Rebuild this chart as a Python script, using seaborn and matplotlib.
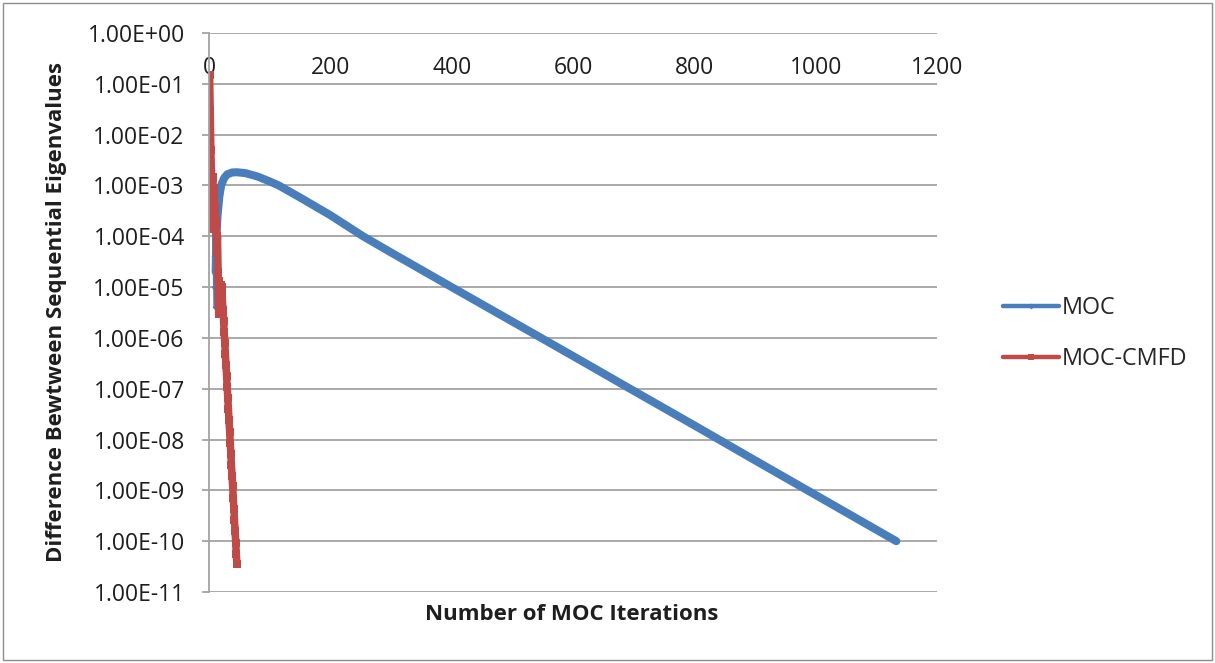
import matplotlib
matplotlib.use("Agg")
import matplotlib.pyplot as plt
from matplotlib.lines import Line2D
from matplotlib.patches import Rectangle
from matplotlib.ticker import FixedLocator, FuncFormatter, NullLocator
import pandas as pd
import seaborn as sns

# Convergence history: eigenvalue change per outer iteration
moc_iter = [1, 2, 3, 4, 5, 6, 7, 8, 9, 10, 11, 12, 14, 17, 20, 25, 30, 38, 46,
            60, 80, 100, 115, 150, 200, 254, 300, 400, 500, 600, 700, 800, 900,
            1000, 1133]
moc_diff = [1.7e-2, 1.2e-2, 8e-3, 5e-3, 2e-3, 6e-4, 1.5e-4, 4e-5, 1e-5, 4e-6,
            2e-5, 8e-5, 2.5e-4, 6e-4, 1.0e-3, 1.4e-3, 1.65e-3, 1.8e-3, 1.82e-3,
            1.75e-3, 1.5e-3, 1.2e-3, 1.0e-3, 5.8e-4, 2.6e-4, 1.0e-4, 4.8e-5,
            1.0e-5, 2.1e-6, 4.4e-7, 9.1e-8, 1.9e-8, 3.9e-9, 8.1e-10, 1.0e-10]

cmfd_iter = list(range(1, 47))
cmfd_diff = [1.5e-1, 3e-2, 5e-3, 2e-3, 1.4e-4, 1.5e-3, 3e-4, 9e-4, 1.5e-4, 4e-4,
             1.3e-4, 2e-4, 5e-5, 1e-4, 2e-5, 3e-6, 1.3e-5, 4e-6, 1.1e-5, 3.2e-6,
             1.0e-5, 6.0e-6, 3.6e-6, 2.2e-6, 1.3e-6, 8.1e-7, 4.9e-7, 2.9e-7,
             1.8e-7, 1.1e-7, 6.5e-8, 4.0e-8, 2.4e-8, 1.4e-8, 8.7e-9, 5.3e-9,
             3.2e-9, 1.9e-9, 1.2e-9, 7.1e-10, 4.3e-10, 2.6e-10, 1.6e-10,
             9.4e-11, 5.7e-11, 3.5e-11]

x_ticks = [0, 200, 400, 600, 800, 1000, 1200]
y_ticks = [1e0, 1e-1, 1e-2, 1e-3, 1e-4, 1e-5, 1e-6, 1e-7, 1e-8, 1e-9, 1e-10, 1e-11]

series_names = ["MOC", "MOC-CMFD"]
colors = {"MOC": "#4a7ebb", "MOC-CMFD": "#be4b48"}

moc_df = pd.DataFrame({"iteration": moc_iter, "diff": moc_diff})
cmfd_df = pd.DataFrame({"iteration": cmfd_iter, "diff": cmfd_diff})

sns.set_theme(style="white")
plt.rcParams["font.family"] = ["Open Sans", "DejaVu Sans"]
TICK_FS = 16.5
LABEL_FS = 16.0
LEGEND_FS = 16.8
TXT = "#1e1e1e"

fig = plt.figure(figsize=(12.15, 6.63), dpi=100)
ax = fig.add_axes([209 / 1215, 1 - 592 / 663, 728 / 1215, 559 / 663])

# MOC: thin line through the sparse start, dense markers make the rest heavy
sns.lineplot(data=moc_df, x="iteration", y="diff", ax=ax, color=colors["MOC"],
             lw=2.0, marker="D", markersize=3, markeredgewidth=0, sort=False)
dense = moc_df[moc_df["iteration"] >= 11]
ax.plot(dense["iteration"], dense["diff"], color=colors["MOC"], lw=5.8,
        solid_capstyle="round", solid_joinstyle="round")

sns.lineplot(data=cmfd_df, x="iteration", y="diff", ax=ax,
             color=colors["MOC-CMFD"], lw=5.4, marker="s", markersize=6,
             markeredgewidth=0, sort=False)

ax.set_yscale("log")
ax.set_xlim(0, 1200)
ax.set_ylim(1e-11, 1e0)
ax.yaxis.set_major_locator(FixedLocator(y_ticks))
ax.yaxis.set_minor_locator(NullLocator())
ax.yaxis.set_major_formatter(FuncFormatter(lambda v, _: "%.2E" % v))
ax.xaxis.set_major_locator(FixedLocator(x_ticks))

ax.grid(axis="y", color="#a3a3a3", lw=1.3)
ax.grid(axis="x", visible=False)
for side in ("top", "right", "bottom"):
    ax.spines[side].set_visible(False)
ax.spines["left"].set_color("#a3a3a3")
ax.spines["left"].set_linewidth(1.3)

ax.xaxis.tick_top()
ax.tick_params(axis="x", which="both", length=0, pad=-33.5,
               labelsize=TICK_FS, labelcolor=TXT)
ax.tick_params(axis="y", which="major", length=5, width=1.3, color="#a3a3a3",
               direction="out", left=True, pad=12.5, labelsize=TICK_FS,
               labelcolor=TXT)

ax.set_xlabel("Number of MOC Iterations", fontsize=LABEL_FS,
              fontweight="bold", color=TXT)
ax.set_ylabel("Difference Bewtween Sequential Eigenvalues", fontsize=LABEL_FS,
              fontweight="bold", color=TXT)
ax.xaxis.set_label_position("bottom")
ax.xaxis.set_label_coords(0.4986, -0.041)
ax.xaxis.label.set_va("center")
ax.yaxis.set_label_coords(-0.209, 0.5)
ax.yaxis.label.set_va("center")

handles = [Line2D([0], [0], color=colors["MOC"], lw=3.2, marker="D",
                  markersize=3, markeredgewidth=0),
           Line2D([0], [0], color=colors["MOC-CMFD"], lw=3.2, marker="s",
                  markersize=4, markeredgewidth=0)]
fig.legend(handles, series_names, loc="center left",
           bbox_to_anchor=(0.808, 0.497), frameon=False, fontsize=LEGEND_FS,
           handlelength=2.4, handletextpad=0.15, labelspacing=1.15)

fig.patches.append(Rectangle((3 / 1215, 3 / 663), 1 - 6 / 1215, 1 - 6 / 663,
                             transform=fig.transFigure, fill=False,
                             edgecolor="#8c8c8c", lw=1.0))

fig.savefig("out.png", dpi=100)
